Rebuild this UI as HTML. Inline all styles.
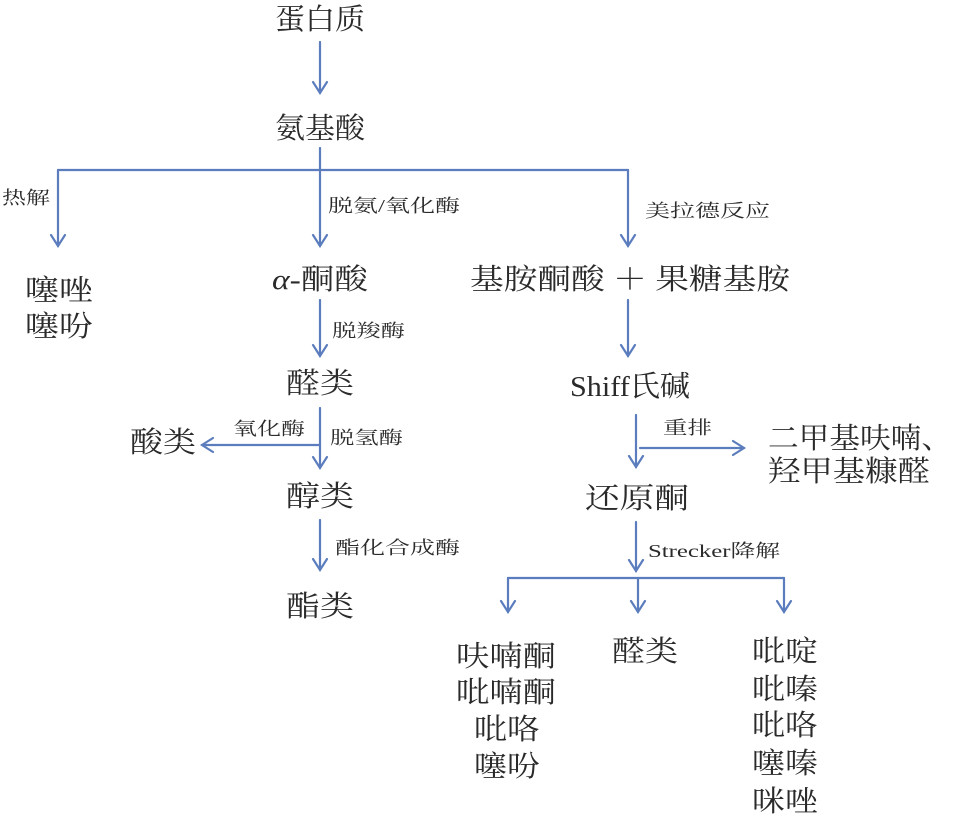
<!DOCTYPE html>
<html><head><meta charset="utf-8"><style>
html,body{margin:0;padding:0;background:#fff;}
svg{display:block}
text{font-family:"Liberation Serif","Noto Serif CJK SC",serif;fill:#2a2a2a;}
.b{font-size:29px;}
.s{font-size:18px;}
</style></head><body>
<svg width="966" height="816" viewBox="0 0 966 816" xmlns="http://www.w3.org/2000/svg">
<g stroke="#5b7dbd" stroke-width="2.2" fill="none" stroke-linecap="round">
<line x1="320" y1="42" x2="320" y2="93"/><polyline points="313,82 320,93 327,82"/>
<line x1="320" y1="148" x2="320" y2="246"/><polyline points="313,235 320,246 327,235"/>
<line x1="58" y1="170" x2="628" y2="170"/>
<line x1="58" y1="170" x2="58" y2="246"/><polyline points="51,235 58,246 65,235"/>
<line x1="628" y1="170" x2="628" y2="246"/><polyline points="621,235 628,246 635,235"/>
<line x1="320" y1="300" x2="320" y2="356"/><polyline points="313,345 320,356 327,345"/>
<line x1="320" y1="408" x2="320" y2="468"/><polyline points="313,457 320,468 327,457"/>
<line x1="320" y1="445" x2="202" y2="445"/><polyline points="213,438 202,445 213,452"/>
<line x1="320" y1="520" x2="320" y2="570"/><polyline points="313,559 320,570 327,559"/>
<line x1="628" y1="300" x2="628" y2="356"/><polyline points="621,345 628,356 635,345"/>
<line x1="636" y1="415" x2="636" y2="467"/><polyline points="629,456 636,467 643,456"/>
<line x1="640" y1="448" x2="744" y2="448"/><polyline points="733,441 744,448 733,455"/>
<line x1="636" y1="522" x2="636" y2="571"/><polyline points="629,560 636,571 643,560"/>
<line x1="508" y1="578" x2="784" y2="578"/>
<line x1="508" y1="578" x2="508" y2="612"/><polyline points="501,601 508,612 515,601"/>
<line x1="638" y1="578" x2="638" y2="612"/><polyline points="631,601 638,612 645,601"/>
<line x1="784" y1="578" x2="784" y2="612"/><polyline points="777,601 784,612 791,601"/>
</g>
<g class="b" lengthAdjust="spacingAndGlyphs">
<text x="275" y="29" textLength="90" lengthAdjust="spacingAndGlyphs">蛋白质</text>
<text x="275" y="138" textLength="90" lengthAdjust="spacingAndGlyphs">氨基酸</text>
<text x="25" y="300" textLength="68" lengthAdjust="spacingAndGlyphs">噻唑</text>
<text x="25" y="336" textLength="68" lengthAdjust="spacingAndGlyphs">噻吩</text>
<text x="272" y="289" textLength="96" lengthAdjust="spacingAndGlyphs"><tspan font-style="italic">α</tspan>-酮酸</text>
<text x="470" y="289" textLength="320" lengthAdjust="spacingAndGlyphs">基胺酮酸 ＋ 果糖基胺</text>
<text x="286" y="393" textLength="68" lengthAdjust="spacingAndGlyphs">醛类</text>
<text x="130" y="452" textLength="66" lengthAdjust="spacingAndGlyphs">酸类</text>
<text x="286" y="506" textLength="68" lengthAdjust="spacingAndGlyphs">醇类</text>
<text x="286" y="616" textLength="68" lengthAdjust="spacingAndGlyphs">酯类</text>
<text x="570" y="396" textLength="120" lengthAdjust="spacingAndGlyphs">Shiff氏碱</text>
<text x="768" y="448" textLength="184" lengthAdjust="spacingAndGlyphs">二甲基呋喃、</text>
<text x="768" y="481" textLength="162" lengthAdjust="spacingAndGlyphs">羟甲基糠醛</text>
<text x="585" y="508" textLength="104" lengthAdjust="spacingAndGlyphs">还原酮</text>
<text x="456" y="666" textLength="100" lengthAdjust="spacingAndGlyphs">呋喃酮</text>
<text x="456" y="702" textLength="100" lengthAdjust="spacingAndGlyphs">吡喃酮</text>
<text x="474" y="739" textLength="66" lengthAdjust="spacingAndGlyphs">吡咯</text>
<text x="474" y="776" textLength="66" lengthAdjust="spacingAndGlyphs">噻吩</text>
<text x="612" y="661" textLength="66" lengthAdjust="spacingAndGlyphs">醛类</text>
<text x="752" y="661" textLength="66" lengthAdjust="spacingAndGlyphs">吡啶</text>
<text x="752" y="699" textLength="66" lengthAdjust="spacingAndGlyphs">吡嗪</text>
<text x="752" y="735" textLength="66" lengthAdjust="spacingAndGlyphs">吡咯</text>
<text x="752" y="773" textLength="66" lengthAdjust="spacingAndGlyphs">噻嗪</text>
<text x="752" y="811" textLength="66" lengthAdjust="spacingAndGlyphs">咪唑</text>
</g>
<g class="s">
<text x="2" y="204" textLength="48" lengthAdjust="spacingAndGlyphs">热解</text>
<text x="328" y="212" textLength="132" lengthAdjust="spacingAndGlyphs">脱氨/氧化酶</text>
<text x="645" y="217" textLength="125" lengthAdjust="spacingAndGlyphs">美拉德反应</text>
<text x="332" y="337" textLength="73" lengthAdjust="spacingAndGlyphs">脱羧酶</text>
<text x="233" y="435" textLength="72" lengthAdjust="spacingAndGlyphs">氧化酶</text>
<text x="330" y="444" textLength="73" lengthAdjust="spacingAndGlyphs">脱氢酶</text>
<text x="335" y="554" textLength="125" lengthAdjust="spacingAndGlyphs">酯化合成酶</text>
<text x="663" y="434" textLength="49" lengthAdjust="spacingAndGlyphs">重排</text>
<text x="648" y="557" textLength="132" lengthAdjust="spacingAndGlyphs">Strecker降解</text>
</g>
</svg>
</body></html>
